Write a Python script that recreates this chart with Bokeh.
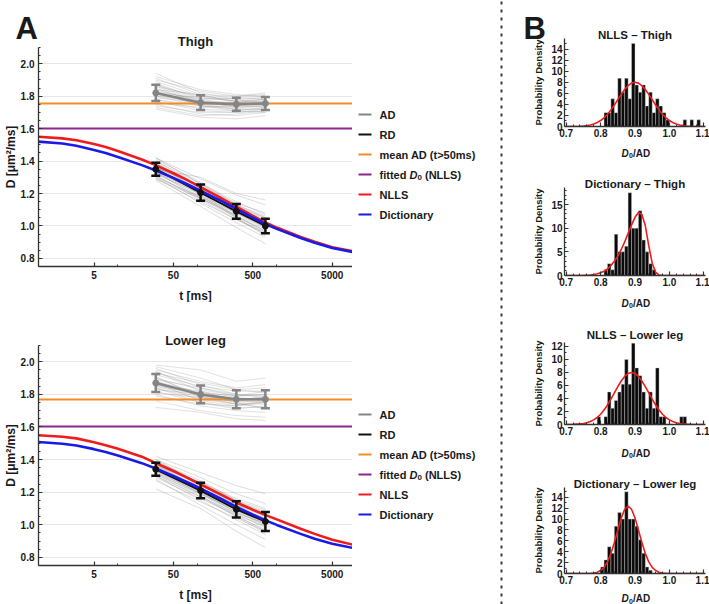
import math
from bokeh.plotting import figure
from bokeh.layouts import row, column
from bokeh.models import FixedTicker, Range1d, PrintfTickFormatter
from bokeh.embed import file_html
from bokeh.resources import INLINE
from bokeh.core.properties import value

FONT = "Liberation Sans"
AXIS_COLOR = "#333333"
TEXT_COLOR = "#1a1a1a"
ORANGE = "#F28C28"
PURPLE = "#8E248E"
RED = "#EE1C1C"
BLUE = "#1A1AE6"
GRAY = "#858585"

# ---------------- panel A data ----------------
t_meas = [30, 110, 310, 720]          # diffusion times (ms)

thigh_ad_mean = [1.82, 1.76, 1.75, 1.755]
thigh_ad_err = [0.05, 0.045, 0.04, 0.04]
thigh_rd_mean = [1.35, 1.205, 1.09, 1.00]
thigh_rd_err = [0.04, 0.05, 0.045, 0.045]
thigh_mean_ad = 1.755
thigh_d0 = 1.60

leg_ad_mean = [1.87, 1.80, 1.77, 1.77]
leg_ad_err = [0.055, 0.055, 0.055, 0.055]
leg_rd_mean = [1.34, 1.21, 1.095, 1.02]
leg_rd_err = [0.04, 0.048, 0.05, 0.058]
leg_mean_ad = 1.77
leg_d0 = 1.60

# individual subjects
thigh_ad_subjects = [
    [1.90, 1.83, 1.80, 1.82], [1.86, 1.80, 1.78, 1.79], [1.84, 1.77, 1.76, 1.77],
    [1.80, 1.74, 1.73, 1.74], [1.78, 1.72, 1.71, 1.73], [1.75, 1.69, 1.68, 1.70],
    [1.88, 1.78, 1.75, 1.76], [1.82, 1.79, 1.77, 1.76], [1.76, 1.73, 1.74, 1.75],
    [1.85, 1.75, 1.72, 1.72], [1.92, 1.84, 1.81, 1.80], [1.79, 1.76, 1.76, 1.78],
    [1.72, 1.67, 1.66, 1.68], [1.83, 1.78, 1.79, 1.80], [1.87, 1.77, 1.73, 1.74],
    [1.81, 1.75, 1.74, 1.73], [1.77, 1.71, 1.70, 1.71], [1.94, 1.82, 1.78, 1.79],
    [1.89, 1.80, 1.77, 1.78], [1.84, 1.81, 1.80, 1.81], [1.78, 1.74, 1.72, 1.72],
    [1.74, 1.70, 1.70, 1.72], [1.86, 1.76, 1.74, 1.76], [1.80, 1.77, 1.75, 1.74],
    [1.91, 1.81, 1.76, 1.77], [1.73, 1.68, 1.69, 1.71], [1.83, 1.74, 1.71, 1.70],
    [1.87, 1.79, 1.77, 1.78],
]
thigh_rd_subjects = [
    [1.42, 1.29, 1.19, 1.13], [1.40, 1.26, 1.15, 1.07], [1.38, 1.24, 1.13, 1.05],
    [1.37, 1.22, 1.11, 1.03], [1.35, 1.21, 1.09, 1.00], [1.34, 1.19, 1.08, 0.99],
    [1.33, 1.18, 1.06, 0.97], [1.31, 1.16, 1.04, 0.95], [1.30, 1.14, 1.02, 0.93],
    [1.28, 1.12, 0.99, 0.89], [1.36, 1.25, 1.14, 1.08], [1.32, 1.20, 1.10, 1.02],
    [1.39, 1.23, 1.10, 1.01], [1.29, 1.17, 1.07, 0.98], [1.36, 1.20, 1.06, 0.96],
    [1.33, 1.21, 1.12, 1.05], [1.41, 1.27, 1.13, 1.02], [1.35, 1.30, 1.20, 1.16],
    [1.38, 1.22, 1.08, 0.99], [1.34, 1.23, 1.13, 1.06], [1.31, 1.17, 1.06, 0.97],
    [1.40, 1.24, 1.11, 1.03], [1.30, 1.18, 1.08, 1.01], [1.37, 1.19, 1.05, 0.95],
    [1.33, 1.17, 1.05, 0.94], [1.36, 1.24, 1.12, 1.04], [1.29, 1.15, 1.04, 0.96],
    [1.42, 1.26, 1.12, 1.02],
]
leg_ad_subjects = [
    [1.98, 1.95, 1.88, 1.90], [1.95, 1.88, 1.84, 1.86], [1.92, 1.85, 1.82, 1.82],
    [1.90, 1.83, 1.79, 1.80], [1.88, 1.81, 1.77, 1.78], [1.86, 1.79, 1.76, 1.75],
    [1.84, 1.77, 1.74, 1.74], [1.82, 1.75, 1.72, 1.72], [1.80, 1.73, 1.70, 1.69],
    [1.76, 1.70, 1.67, 1.66], [1.72, 1.69, 1.65, 1.64], [1.89, 1.84, 1.80, 1.79],
    [1.94, 1.82, 1.76, 1.77], [1.85, 1.81, 1.79, 1.82], [1.87, 1.76, 1.73, 1.76],
    [1.96, 1.86, 1.80, 1.78], [1.83, 1.80, 1.75, 1.71], [1.91, 1.78, 1.74, 1.75],
    [1.93, 1.87, 1.83, 1.84], [1.90, 1.80, 1.75, 1.76], [1.86, 1.82, 1.78, 1.77],
    [1.81, 1.78, 1.76, 1.78], [1.97, 1.90, 1.83, 1.81], [1.84, 1.75, 1.71, 1.73],
    [1.79, 1.74, 1.73, 1.75], [1.88, 1.79, 1.74, 1.72], [1.94, 1.84, 1.79, 1.80],
    [1.85, 1.78, 1.76, 1.79],
]
leg_rd_subjects = [
    [1.42, 1.32, 1.24, 1.19], [1.40, 1.29, 1.19, 1.13], [1.38, 1.26, 1.15, 1.09],
    [1.37, 1.24, 1.13, 1.06], [1.35, 1.22, 1.11, 1.04], [1.34, 1.21, 1.09, 1.01],
    [1.33, 1.19, 1.08, 0.99], [1.31, 1.17, 1.05, 0.97], [1.30, 1.15, 1.03, 0.94],
    [1.28, 1.12, 1.00, 0.91], [1.22, 1.10, 0.96, 0.86], [1.36, 1.23, 1.12, 1.05],
    [1.32, 1.20, 1.10, 1.04], [1.39, 1.25, 1.12, 1.03], [1.29, 1.16, 1.06, 0.99],
    [1.36, 1.20, 1.07, 0.98], [1.33, 1.24, 1.14, 1.08], [1.27, 1.14, 1.04, 0.96],
    [1.39, 1.27, 1.15, 1.07], [1.35, 1.20, 1.08, 1.00], [1.31, 1.19, 1.09, 1.03],
    [1.37, 1.22, 1.09, 1.00], [1.33, 1.21, 1.12, 1.07], [1.30, 1.17, 1.07, 1.01],
    [1.40, 1.25, 1.11, 1.02], [1.34, 1.19, 1.06, 0.96], [1.36, 1.26, 1.16, 1.10],
    [1.32, 1.18, 1.05, 0.95],
]

# fitted model curves
t_fit = [1, 2, 3, 5, 7, 10, 20, 30, 50, 70, 100, 200, 300, 500, 700,
         1000, 2000, 3000, 5000, 9000]
thigh_nlls = [1.550, 1.540, 1.528, 1.505, 1.486, 1.462, 1.410, 1.375, 1.325, 1.290,
              1.250, 1.172, 1.122, 1.062, 1.024, 0.990, 0.932, 0.902, 0.869, 0.845]
thigh_dict = [1.520, 1.508, 1.494, 1.468, 1.449, 1.425, 1.375, 1.342, 1.296, 1.263,
              1.227, 1.155, 1.108, 1.051, 1.015, 0.982, 0.926, 0.897, 0.864, 0.840]
leg_nlls = [1.549, 1.540, 1.530, 1.506, 1.488, 1.466, 1.418, 1.378, 1.330, 1.295,
            1.258, 1.185, 1.140, 1.092, 1.062, 1.033, 0.976, 0.944, 0.908, 0.878]
leg_dict = [1.508, 1.497, 1.486, 1.464, 1.446, 1.425, 1.378, 1.345, 1.300, 1.267,
            1.232, 1.158, 1.113, 1.062, 1.030, 0.999, 0.944, 0.914, 0.884, 0.858]

# ---------------- panel B data (D0/AD histograms, bin width 0.01) ----------------
bin_width = 0.01
nlls_thigh_left = [0.81, 0.82, 0.83, 0.84, 0.85, 0.86, 0.87, 0.88, 0.89, 0.90, 0.91,
                   0.92, 0.93, 0.94, 0.95, 0.96, 0.97, 0.98, 0.99, 1.04, 1.06, 1.08]
nlls_thigh_dens = [2.5, 2.5, 5.0, 2.5, 8.7, 6.2, 8.7, 5.0, 15.0, 7.5, 6.2,
                   7.5, 3.7, 6.2, 2.5, 5.0, 3.7, 2.5, 1.2, 1.2, 1.2, 1.2]
dict_thigh_left = [0.81, 0.82, 0.83, 0.84, 0.85, 0.86, 0.87, 0.88, 0.89, 0.90,
                   0.91, 0.92, 0.93, 0.94, 0.95]
dict_thigh_dens = [1.2, 2.5, 1.2, 8.7, 5.0, 5.0, 6.2, 17.5, 10.0, 10.0,
                   13.7, 7.5, 5.0, 2.5, 1.2]
nlls_leg_left = [0.79, 0.81, 0.82, 0.83, 0.84, 0.85, 0.86, 0.87, 0.88, 0.89, 0.90,
                 0.91, 0.92, 0.93, 0.94, 0.95, 0.96, 0.97, 0.98, 1.03, 1.04]
nlls_leg_dens = [1.2, 1.2, 5.0, 2.5, 3.7, 5.0, 6.2, 10.0, 6.2, 12.5, 8.7,
                 7.5, 5.0, 2.5, 5.0, 2.5, 8.7, 1.2, 1.2, 1.2, 1.2]
dict_leg_left = [0.80, 0.81, 0.82, 0.83, 0.84, 0.85, 0.86, 0.87, 0.88, 0.89,
                 0.90, 0.91, 0.92, 0.93, 0.94]
dict_leg_dens = [1.2, 2.5, 4.9, 3.7, 8.7, 11.2, 10.0, 15.0, 10.0, 10.0,
                 8.7, 6.2, 3.7, 1.2, 0.6]

# fitted densities
pdf_x = [0.70, 0.72, 0.74, 0.75, 0.76, 0.77, 0.78, 0.79, 0.80, 0.81, 0.82, 0.83,
         0.84, 0.85, 0.86, 0.87, 0.88, 0.89, 0.90, 0.91, 0.92, 0.93, 0.94, 0.95,
         0.96, 0.97, 0.98, 0.99, 1.00, 1.01, 1.02, 1.03, 1.04, 1.05, 1.06, 1.08, 1.10]
nlls_thigh_pdf = [0.00, 0.01, 0.05, 0.09, 0.16, 0.27, 0.45, 0.71, 1.08, 1.58, 2.22, 3.00,
                  3.89, 4.85, 5.81, 6.68, 7.39, 7.84, 8.00, 7.84, 7.39, 6.68, 5.81, 4.85,
                  3.89, 3.00, 2.22, 1.58, 1.08, 0.71, 0.45, 0.27, 0.16, 0.09, 0.05, 0.01, 0.00]
dict_thigh_pdf = [0.00, 0.00, 0.01, 0.02, 0.05, 0.12, 0.22, 0.38, 0.60, 0.90, 1.40, 2.10,
                  3.00, 4.10, 5.50, 7.10, 8.90, 10.70, 12.30, 13.30, 12.90, 10.50, 6.30, 2.60,
                  0.70, 0.10, 0.00, 0.00, 0.00, 0.00, 0.00, 0.00, 0.00, 0.00, 0.00, 0.00, 0.00]
nlls_leg_pdf = [0.01, 0.02, 0.09, 0.16, 0.27, 0.45, 0.71, 1.08, 1.58, 2.22, 3.00, 3.89,
                4.85, 5.81, 6.68, 7.39, 7.84, 8.00, 7.84, 7.39, 6.68, 5.81, 4.85, 3.89,
                3.00, 2.22, 1.58, 1.08, 0.71, 0.45, 0.27, 0.16, 0.09, 0.05, 0.02, 0.00, 0.00]
dict_leg_pdf = [0.00, 0.00, 0.00, 0.00, 0.01, 0.03, 0.09, 0.24, 0.55, 1.13, 2.14, 3.66,
                5.68, 7.99, 10.20, 11.81, 12.40, 11.81, 10.20, 7.99, 5.68, 3.66, 2.14, 1.13,
                0.55, 0.24, 0.09, 0.03, 0.01, 0.00, 0.00, 0.00, 0.00, 0.00, 0.00, 0.00, 0.00]

# ---------------- geometry ----------------
A_WIDTH, A_LEFT, A_RIGHT = 352, 38, 0
B_WIDTH, B_LEFT, B_RIGHT = 189, 44, 4
T_MIN, T_MAX = 1, 9000
D_MIN, D_MAX = 0.75, 2.10
R_MIN, R_MAX = 0.695, 1.105


def style_axes(p, tick_size):
    for ax in (p.xaxis[0], p.yaxis[0]):
        ax.axis_line_color = AXIS_COLOR
        ax.axis_line_width = 1.3
        ax.major_tick_line_color = AXIS_COLOR
        ax.minor_tick_line_color = AXIS_COLOR
        ax.major_tick_line_width = 1.2
        ax.major_tick_in = 4
        ax.major_tick_out = 0
        ax.minor_tick_in = 2
        ax.minor_tick_out = 0
        ax.major_label_text_font = FONT
        ax.major_label_text_font_style = "bold"
        ax.major_label_text_font_size = tick_size
        ax.major_label_text_color = TEXT_COLOR
        ax.axis_label_text_font = FONT
        ax.axis_label_text_font_style = "bold"
        ax.axis_label_text_color = TEXT_COLOR


def put_text(p, x, y, text, size, style="bold", align="left", baseline="alphabetic"):
    # overlay level: drawn on the figure canvas, outside the frame as well
    p.text(x=[x], y=[y], text=[text], text_font=value(FONT), text_font_style=style,
           text_font_size=size, text_color=TEXT_COLOR, text_align=align,
           text_baseline=baseline, level="overlay")


class PixelMap:
    """Converts pixel offsets from a frame's bottom-left corner to data values."""

    def __init__(self, x0, x1, y0, y1, w, h, logx=False):
        self.x0, self.x1, self.y0, self.y1, self.w, self.h, self.logx = x0, x1, y0, y1, w, h, logx

    def x(self, px):
        if self.logx:
            a, b = math.log10(self.x0), math.log10(self.x1)
            return 10 ** (a + px / self.w * (b - a))
        return self.x0 + px / self.w * (self.x1 - self.x0)

    def y(self, py):
        return self.y0 + py / self.h * (self.y1 - self.y0)

    def text(self, p, px, py, text, size, **kw):
        put_text(p, self.x(px), self.y(py), text, size, **kw)


def diffusion_panel(ad_mean, ad_err, rd_mean, rd_err, ad_subj, rd_subj,
                    mean_ad, d0, nlls, dic, height, top, bottom):
    p = figure(width=A_WIDTH, height=height, x_axis_type="log",
               x_range=Range1d(T_MIN, T_MAX), y_range=Range1d(D_MIN, D_MAX),
               min_border_left=A_LEFT, min_border_right=A_RIGHT,
               min_border_top=top, min_border_bottom=bottom,
               output_backend="svg", toolbar_location=None)
    p.outline_line_color = None
    yt = FixedTicker(ticks=[0.8, 1.0, 1.2, 1.4, 1.6, 1.8, 2.0],
                     minor_ticks=[0.75, 0.85, 0.9, 0.95, 1.05, 1.1, 1.15, 1.25, 1.3, 1.35,
                                  1.45, 1.5, 1.55, 1.65, 1.7, 1.75, 1.85, 1.9, 1.95,
                                  2.05, 2.1])
    p.yaxis.ticker = yt
    p.ygrid.ticker = yt
    p.yaxis.formatter = PrintfTickFormatter(format="%.1f")
    p.ygrid.grid_line_color = "#e6e6e6"
    p.xgrid.visible = False
    p.xaxis.ticker = FixedTicker(ticks=[5, 50, 500, 5000], minor_ticks=[10, 100, 1000])
    p.xaxis.major_label_overrides = {5: "5", 50: "50", 500: "500", 5000: "5000"}
    style_axes(p, "10px")
    p.yaxis.axis_label = "D [μm²/ms]"
    p.yaxis.axis_label_text_font_size = "12px"
    p.xaxis.major_label_standoff = 4
    p.yaxis.major_label_standoff = 4
    p.yaxis.axis_label_standoff = 0

    # individual subjects
    p.multi_line(xs=[t_meas] * len(ad_subj), ys=ad_subj, line_color="#808080",
                 line_alpha=0.3, line_width=0.8)
    p.multi_line(xs=[t_meas] * len(rd_subj), ys=rd_subj, line_color="#6e6e6e",
                 line_alpha=0.3, line_width=0.8)

    # reference levels
    p.hspan(y=[mean_ad], line_color=ORANGE, line_width=2.2)
    p.hspan(y=[d0], line_color=PURPLE, line_width=2.2)

    # group means
    p.line(t_meas, ad_mean, line_color=GRAY, line_width=2.5)
    p.line(t_meas, rd_mean, line_color="#111111", line_width=2.0)

    # model fits
    p.line(t_fit, nlls, line_color=RED, line_width=2.6)
    p.line(t_fit, dic, line_color=BLUE, line_width=2.6)

    # error bars
    for mean, err, col in ((ad_mean, ad_err, GRAY), (rd_mean, rd_err, "#111111")):
        lo = [m - e for m, e in zip(mean, err)]
        hi = [m + e for m, e in zip(mean, err)]
        p.segment(x0=t_meas, y0=lo, x1=t_meas, y1=hi, line_color=col, line_width=2.5)
        p.scatter(x=t_meas + t_meas, y=lo + hi, marker="dash", size=9,
                  line_color=col, line_width=2.5)
        p.scatter(x=t_meas, y=mean, size=6, fill_color=col, line_color=col)

    pm = PixelMap(T_MIN, T_MAX, D_MIN, D_MAX, A_WIDTH - A_LEFT - A_RIGHT,
                  height - top - bottom, logx=True)
    return p, pm


def text_strip(width, height):
    s = figure(width=width, height=height, x_range=Range1d(0, width),
               y_range=Range1d(0, height), min_border=0,
               x_axis_location=None, y_axis_location=None,
               output_backend="svg", toolbar_location=None)
    s.outline_line_color = None
    s.grid.visible = False
    return s


def legend_panel(height, first_row):
    p = text_strip(140, height)
    colors = [GRAY, "#111111", ORANGE, PURPLE, RED, BLUE]
    ys = [height - first_row - 20 * i for i in range(6)]
    p.segment(x0=[6] * 6, x1=[19] * 6, y0=ys, y1=ys, line_color=colors, line_width=2)
    for y, label in zip([ys[0], ys[1], ys[2], ys[4], ys[5]],
                        ["AD", "RD", "mean AD (t>50ms)", "NLLS", "Dictionary"]):
        put_text(p, 27, y, label, "11px", baseline="middle")
    # fitted D0 (NLLS) with italic D and subscript 0
    put_text(p, 27, ys[3], "fitted", "11px", baseline="middle")
    put_text(p, 57, ys[3], "D", "11px", style="bold italic", baseline="middle")
    put_text(p, 65, ys[3] - 3, "0", "8px", baseline="middle")
    put_text(p, 72.5, ys[3], "(NLLS)", "11px", baseline="middle")
    return p


def hist_panel(name, left, dens, pdf, ymax, yticks, yminor, height, top, bottom,
               title_base, caption_base, letter=False):
    p = figure(width=B_WIDTH, height=height, x_range=Range1d(R_MIN, R_MAX),
               y_range=Range1d(0, ymax), min_border_left=B_LEFT, min_border_right=B_RIGHT,
               min_border_top=top, min_border_bottom=bottom,
               output_backend="svg", toolbar_location=None)
    p.outline_line_color = None
    p.grid.visible = False
    p.xaxis.ticker = FixedTicker(ticks=[0.7, 0.8, 0.9, 1.0, 1.1],
                                 minor_ticks=[0.72, 0.74, 0.76, 0.78, 0.82, 0.84, 0.86,
                                              0.88, 0.92, 0.94, 0.96, 0.98, 1.02, 1.04,
                                              1.06, 1.08])
    p.xaxis.formatter = PrintfTickFormatter(format="%.1f")
    p.yaxis.ticker = FixedTicker(ticks=yticks, minor_ticks=yminor)
    p.yaxis.formatter = PrintfTickFormatter(format="%d")
    style_axes(p, "10px")
    p.xaxis.major_label_standoff = 2
    p.yaxis.major_label_standoff = 2
    p.yaxis.axis_label = "Probability Density"
    p.yaxis.axis_label_text_font_size = "9.5px"
    p.yaxis.axis_label_standoff = 4
    right = [l + bin_width for l in left]
    p.quad(left=left, right=right, bottom=0, top=dens, fill_color="#0a0a0a",
           line_color="#cfcfcf", line_width=0.4)
    p.line(pdf_x, pdf, line_color=RED, line_width=1.6)

    frame_h = height - top - bottom
    pm = PixelMap(R_MIN, R_MAX, 0, ymax, B_WIDTH - B_LEFT - B_RIGHT, frame_h)
    pm.text(p, 70.5, frame_h + title_base, name, "11.5px", align="center")
    # x caption "D0/AD" with italic D and subscript 0
    pm.text(p, 57, -caption_base, "D", "10px", style="bold italic")
    pm.text(p, 64.4, -caption_base - 2.5, "0", "7px")
    pm.text(p, 68.5, -caption_base, "/AD", "10px")
    if letter:
        pm.text(p, -41, frame_h + 10, "B", "31px")
    return p


# ---------------- panel A ----------------
thigh, pm_t = diffusion_panel(thigh_ad_mean, thigh_ad_err, thigh_rd_mean, thigh_rd_err,
                              thigh_ad_subjects, thigh_rd_subjects, thigh_mean_ad, thigh_d0,
                              thigh_nlls, thigh_dict, 302, 47, 36)
pm_t.text(thigh, -23, 238, "A", "31px")
pm_t.text(thigh, 157, 225, "Thigh", "13px", align="center")
pm_t.text(thigh, 157, -29.5, "t [ms]", "12px", align="center")

lower, pm_l = diffusion_panel(leg_ad_mean, leg_ad_err, leg_rd_mean, leg_rd_err,
                              leg_ad_subjects, leg_rd_subjects, leg_mean_ad, leg_d0,
                              leg_nlls, leg_dict, 302, 43, 39)
pm_l.text(lower, 157, 225, "Lower leg", "13px", align="center")
pm_l.text(lower, 157, -29, "t [ms]", "12px", align="center")

left_col = column(thigh, lower)
legend_col = column(legend_panel(302, 114), legend_panel(302, 112))

# ---------------- separator ----------------
sep = text_strip(28, 604)
sep.segment(x0=[9], y0=[0], x1=[9], y1=[604], line_color="#3a3a3a", line_width=2,
            line_dash="3 5")

# ---------------- panel B ----------------
h1 = hist_panel("NLLS – Thigh", nlls_thigh_left, nlls_thigh_dens, nlls_thigh_pdf, 15.9,
                [0, 2, 4, 6, 8, 10, 12, 14], [1, 3, 5, 7, 9, 11, 13, 15],
                160, 38, 34, 3.5, 26.5, letter=True)
h2 = hist_panel("Dictionary – Thigh", dict_thigh_left, dict_thigh_dens, dict_thigh_pdf, 18.6,
                [0, 5, 10, 15], [1, 2, 3, 4, 6, 7, 8, 9, 11, 12, 13, 14, 16, 17, 18],
                150, 27, 35, 3.5, 27.5)
h3 = hist_panel("NLLS – Lower leg", nlls_leg_left, nlls_leg_dens, nlls_leg_pdf, 12.6,
                [0, 2, 4, 6, 8, 10, 12], [1, 3, 5, 7, 9, 11],
                150, 32, 36, 7.5, 28.5)
h4 = hist_panel("Dictionary – Lower leg", dict_leg_left, dict_leg_dens, dict_leg_pdf, 15.8,
                [0, 2, 4, 6, 8, 10, 12, 14], [1, 3, 5, 7, 9, 11, 13, 15],
                144, 27, 31, 3.5, 25)

right_col = column(h1, h2, h3, h4)

layout = row(left_col, legend_col, sep, right_col)

with open("out.html", "w") as f:
    f.write(file_html(layout, INLINE))
